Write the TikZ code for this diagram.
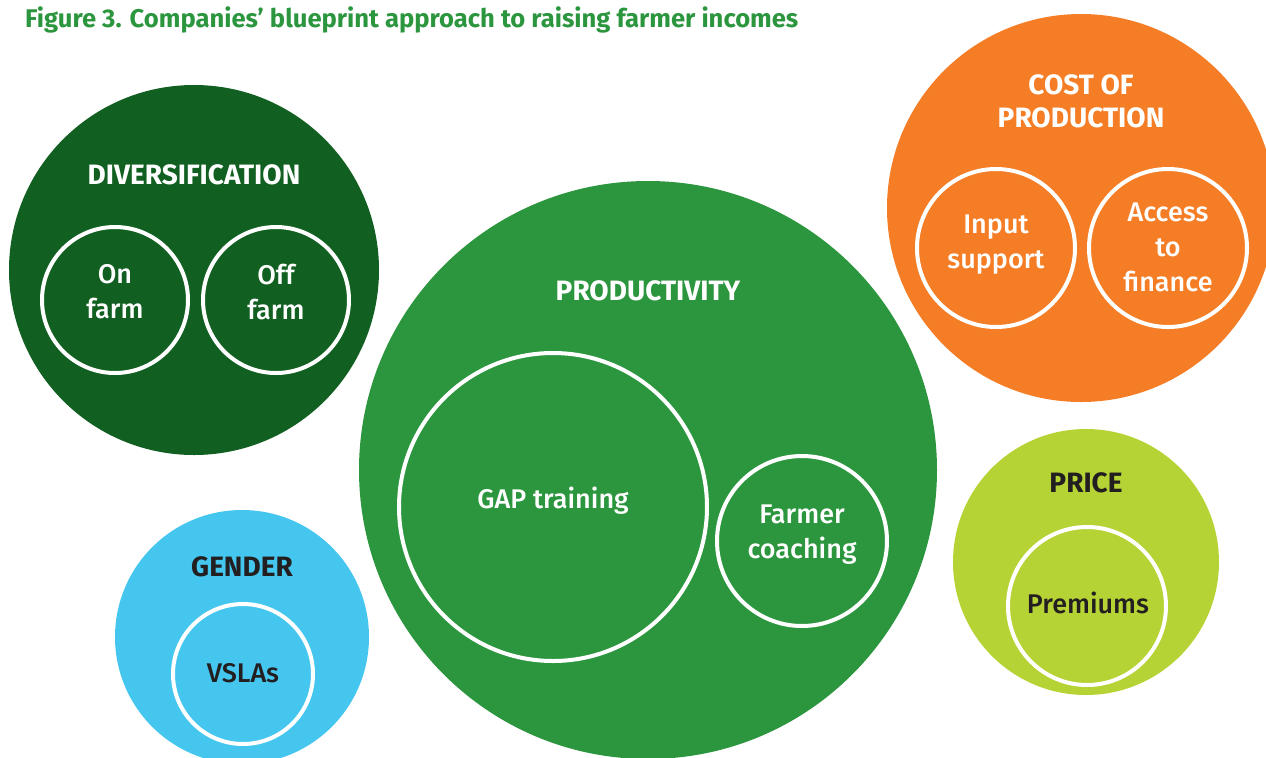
\documentclass[tikz,border=0pt]{standalone}
\usepackage{fontspec}
\setmainfont{Fira Sans}
\newfontfamily\itemfont{Fira Sans Medium}
\definecolor{divgreen}{HTML}{115F21}
\definecolor{progreen}{HTML}{2C963F}
\definecolor{costorange}{HTML}{F47D26}
\definecolor{pricelime}{HTML}{B5D334}
\definecolor{genderblue}{HTML}{45C6EE}
\definecolor{darktext}{HTML}{231F20}
\tikzset{
  bubble/.style 2 args={circle, fill=#1, inner sep=0pt, minimum size=#2pt},
  ring/.style={circle, draw=white, line width=2pt, inner sep=0pt, minimum size=#1pt},
  head/.style={font=\fontsize{14}{16.5}\bfseries\selectfont, align=center},
  item/.style={font=\fontsize{13.5}{17.5}\itemfont, align=center},
}
\begin{document}
\begin{tikzpicture}[x=0.5pt, y=-0.5pt]
    \useasboundingbox (0,0) rectangle (1266,757);

    % coordinates to be reused
    \coordinate (Div) at (194,270);
    \coordinate (Pro) at (648,470);
    \coordinate (Cost) at (1081,208);
    \coordinate (Price) at (1086,562);
    \coordinate (Gen) at (242,637);

    % draw bubbles
    \node [bubble={divgreen}{185}] (div) at (Div) {};
    \node [bubble={progreen}{289}] (pro) at (Pro) {};
    \node [bubble={costorange}{194}] (cost) at (Cost) {};
    \node [bubble={pricelime}{133}] (price) at (Price) {};
    \node [bubble={genderblue}{127}] (gen) at (Gen) {};

    % inner rings
    \node [ring=73] (onring) at (115,300) {};
    \node [ring=73] (offring) at (276,300) {};
    \node [ring=154] (gapring) at (553,507) {};
    \node [ring=85] (coachring) at (802,541) {};
    \node [ring=79] (inputring) at (996,248) {};
    \node [ring=79] (financering) at (1168,248) {};
    \node [ring=79] (premring) at (1087,606) {};
    \node [ring=70] (vslaring) at (243,674) {};

    % add labels
    \node [anchor=west, font=\fontsize{12.8}{15}\bfseries\selectfont, text=progreen]
      (fig) at (18,20) {Figure 3. Companies’ blueprint approach to raising farmer incomes};
    \node [head, text=white] (divhead) at (194,175) {DIVERSIFICATION};
    \node [head, text=white] (prohead) at (648,291) {PRODUCTIVITY};
    \node [head, text=white] (costhead) at (1081,101) {COST OF\\PRODUCTION};
    \node [head, text=darktext] (pricehead) at (1086,483) {PRICE};
    \node [head, text=darktext] (genhead) at (242,567) {GENDER};
    \node [item, text=white] (on) at (115,292) {On\\farm};
    \node [item, text=white] (off) at (276,292) {Off\\farm};
    \node [item, text=white] (gap) at (553,501) {GAP training};
    \node [item, text=white] (coach) at (802,535) {Farmer\\coaching};
    \node [item, text=white] (input) at (996,245) {Input\\support};
    \node [item, text=white] (finance) at (1168,247) {Access\\to\\finance};
    \node [item, text=darktext] (prem) at (1088,603) {Premiums};
    \node [item, text=darktext] (vsla) at (243,673) {VSLAs};
\end{tikzpicture}
\end{document}
